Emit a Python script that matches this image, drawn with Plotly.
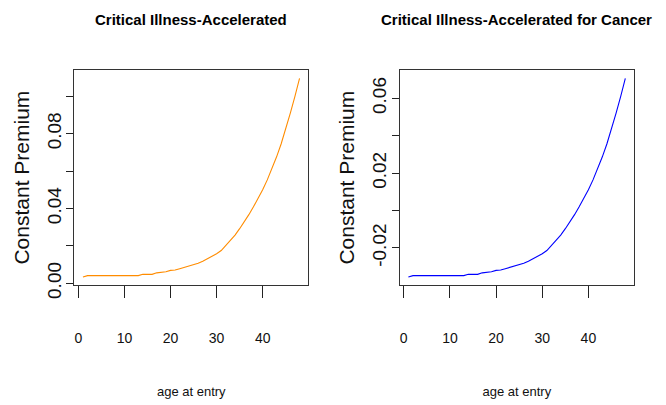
import plotly.graph_objects as go

# ---- data ----
ages = list(range(1, 49))

premium_ci = [0.0034, 0.0041, 0.0041, 0.0041, 0.0041, 0.0041, 0.0041, 0.0041,
              0.0041, 0.0041, 0.0041, 0.0041, 0.0041, 0.0048, 0.0048, 0.0048,
              0.0056, 0.0057, 0.0062, 0.0069, 0.0071, 0.0078, 0.0085, 0.0092,
              0.0099, 0.0107, 0.0118, 0.0131, 0.0141, 0.0158, 0.0175, 0.0203,
              0.0228, 0.0258, 0.0292, 0.0328, 0.0367, 0.0409, 0.0453, 0.0500,
              0.0553, 0.0610, 0.0675, 0.0745, 0.0825, 0.0910, 0.1000, 0.1096]

premium_cancer = [-0.0355, -0.0348, -0.0348, -0.0348, -0.0348, -0.0348, -0.0348, -0.0348,
                  -0.0348, -0.0348, -0.0348, -0.0348, -0.0348, -0.0341, -0.0341, -0.0341,
                  -0.0333, -0.0332, -0.0327, -0.0320, -0.0318, -0.0311, -0.0304, -0.0297,
                  -0.0290, -0.0282, -0.0271, -0.0258, -0.0248, -0.0231, -0.0214, -0.0186,
                  -0.0161, -0.0131, -0.0097, -0.0061, -0.0022, 0.0020, 0.0064, 0.0111,
                  0.0164, 0.0221, 0.0286, 0.0356, 0.0436, 0.0521, 0.0611, 0.0707]

titles = ["Critical Illness-Accelerated", "Critical Illness-Accelerated for Cancer"]
x_label = "age at entry"
y_label = "Constant Premium"

x_ticks = [0, 10, 20, 30, 40]
y_ticks_left = [0.00, 0.02, 0.04, 0.06, 0.08, 0.10]
y_text_left = ["0.00", "", "0.04", "", "0.08", ""]
y_ticks_right = [-0.02, 0.00, 0.02, 0.04, 0.06]
y_text_right = ["-0.02", "", "0.02", "", "0.06"]

W, H = 666, 405
FONT = "Liberation Sans, Arial, sans-serif"

fig = go.Figure()
fig.add_trace(go.Scatter(x=ages, y=premium_ci, mode="lines",
                         line=dict(color="#FF8C00", width=1.1),
                         xaxis="x", yaxis="y", showlegend=False))
fig.add_trace(go.Scatter(x=ages, y=premium_cancer, mode="lines",
                         line=dict(color="#0000FF", width=1.1),
                         xaxis="x2", yaxis="y2", showlegend=False))

ydom = [1 - 295 / H, 1 - 73 / H]


def xaxis(dom, anchor):
    return dict(domain=dom, anchor=anchor, range=[-0.88, 49.88],
                tickvals=x_ticks, ticks="outside", ticklen=12, tickwidth=1,
                tickcolor="#222", showline=True, mirror=True, linecolor="#333",
                linewidth=1, showgrid=False, zeroline=False,
                tickfont=dict(family=FONT, size=14, color="#111"),
                ticklabelstandoff=28,
                title=dict(text=x_label, standoff=42,
                           font=dict(family=FONT, size=13, color="#111")))


def yaxis(anchor, rng, tv, tt):
    return dict(domain=ydom, anchor=anchor, range=rng, tickvals=tv, ticktext=tt,
                ticks="outside", ticklen=7, tickwidth=1, tickcolor="#222",
                showline=True, mirror=True, linecolor="#333", linewidth=1,
                showgrid=False, zeroline=False, tickangle=-90,
                tickfont=dict(family=FONT, size=19, color="#111"),
                ticklabelstandoff=-2,
                title=dict(text=y_label, standoff=8,
                           font=dict(family=FONT, size=21, color="#111")))


fig.update_layout(
    width=W, height=H,
    margin=dict(l=0, r=0, t=0, b=0),
    paper_bgcolor="white", plot_bgcolor="white",
    xaxis=xaxis([74.3 / W, 308.2 / W], "y"),
    yaxis=yaxis("x", [-0.0008, 0.1138], y_ticks_left, y_text_left),
    xaxis2=xaxis([399.7 / W, 634 / W], "y2"),
    yaxis2=yaxis("x2", [-0.0397, 0.0749], y_ticks_right, y_text_right),
    annotations=[
        dict(text="<b>%s</b>" % titles[0], x=(74.3 + 308.2) / 2 / W, y=1 - 20 / H,
             xref="paper", yref="paper", xanchor="center", yanchor="middle",
             showarrow=False, font=dict(family=FONT, size=15, color="#000")),
        dict(text="<b>%s</b>" % titles[1], x=(399.7 + 634) / 2 / W, y=1 - 20 / H,
             xref="paper", yref="paper", xanchor="center", yanchor="middle",
             showarrow=False, font=dict(family=FONT, size=15, color="#000")),
    ],
)

fig.write_html("out.html")
